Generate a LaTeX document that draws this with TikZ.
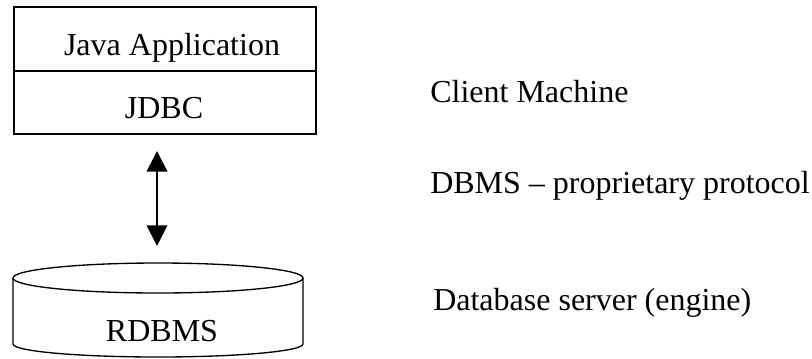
\documentclass[tikz,border=0pt]{standalone}
\usepackage{fontspec}
\setmainfont{Liberation Serif}
\usetikzlibrary{arrows.meta}

\begin{document}
\begin{tikzpicture}[%
      x=0.75pt, y=-0.75pt,
      lbl/.style={font=\fontsize{24}{28}\selectfont, inner sep=0pt},
      ]
      \useasboundingbox (0,0) rectangle (812,358);

      % client box
      \draw [color=black, line width=1.4pt] (14,7) rectangle (316,134);
      \draw [color=black, line width=1.4pt] (14,71) -- (316,71);
      \node [lbl, anchor=base] (app) at (172,55) {Java Application};
      \node [lbl, anchor=base] (jdbc) at (164,118) {JDBC};

      % protocol arrow
      \coordinate (arrtop) at (157,151);
      \coordinate (arrbot) at (157,246);
      \draw [color=black, line width=1.3pt,
             {Triangle[width=15.5pt,length=15.5pt]}-{Triangle[width=15.5pt,length=15.5pt]}]
            (arrtop) -- (arrbot);

      % database cylinder
      \draw [color=black, line width=1pt] (158,278) ellipse [x radius=145, y radius=15];
      \draw [color=black, line width=1pt] (13,278) -- (13,344)
            arc [start angle=180, end angle=0, x radius=145, y radius=13] -- (303,278);
      \node [lbl, anchor=base] (rdbms) at (162,341) {RDBMS};

      % layer labels
      \node [lbl, anchor=base west] (client) at (430,102) {Client Machine};
      \node [lbl, anchor=base west] (proto) at (430,193) {DBMS -- proprietary protocol};
      \node [lbl, anchor=base west] (server) at (433,310) {Database server (engine)};
\end{tikzpicture}
\end{document}
